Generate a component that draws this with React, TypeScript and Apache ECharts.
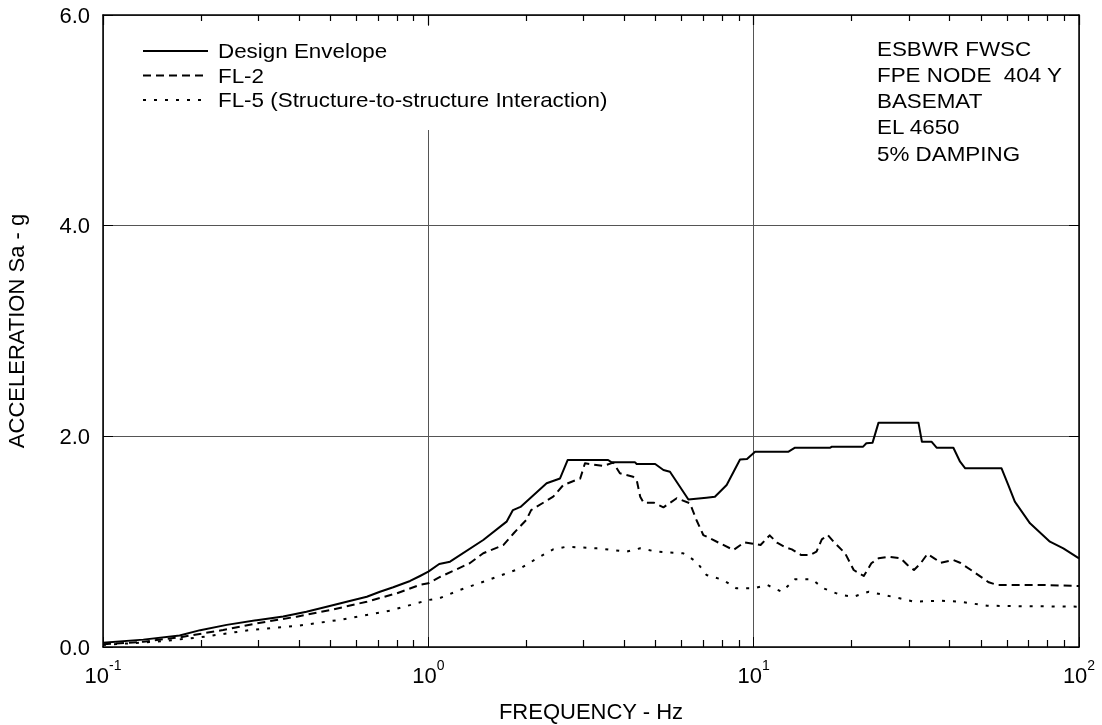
import React, { useEffect, useRef } from "react";
import * as echarts from "echarts";

const FONT = "'Liberation Sans', Arial, Helvetica, sans-serif";

// Design Envelope
const designFreq = [0.1, 0.133, 0.172, 0.199, 0.24, 0.297, 0.358, 0.422, 0.487, 0.561, 0.647, 0.71, 0.78, 0.879, 0.943, 1.0, 1.08, 1.166, 1.475, 1.74, 1.82, 1.92, 2.31, 2.54, 2.68, 3.57, 3.66, 4.32, 4.37, 4.98, 5.28, 5.53, 6.22, 6.3, 7.16, 7.6, 8.26, 9.08, 9.54, 10.1, 12.8, 13.4, 17.2, 17.4, 21.7, 22.2, 23.2, 24.2, 32.1, 32.9, 35.2, 36.5, 41.1, 43.1, 44.7, 57.8, 60.6, 63.5, 70.7, 81.4, 89.5, 100];
const designAcc = [0.04, 0.07, 0.11, 0.16, 0.21, 0.255, 0.29, 0.335, 0.383, 0.43, 0.477, 0.525, 0.567, 0.627, 0.674, 0.715, 0.788, 0.81, 1.016, 1.19, 1.3, 1.33, 1.554, 1.6, 1.775, 1.775, 1.753, 1.753, 1.737, 1.737, 1.68, 1.664, 1.427, 1.4, 1.418, 1.427, 1.538, 1.78, 1.785, 1.854, 1.854, 1.892, 1.892, 1.902, 1.902, 1.934, 1.94, 2.13, 2.13, 1.949, 1.949, 1.892, 1.892, 1.759, 1.696, 1.696, 1.538, 1.38, 1.174, 1.0, 0.937, 0.842];

// FL-2
const fl2Freq = [0.1, 0.133, 0.172, 0.234, 0.297, 0.394, 0.5, 0.647, 0.8, 0.94, 1.0, 1.09, 1.34, 1.475, 1.7, 1.83, 2.0, 2.07, 2.42, 2.6, 2.93, 3.03, 3.45, 3.7, 3.88, 4.26, 4.37, 4.48, 4.59, 4.93, 5.28, 5.8, 6.37, 6.67, 7.0, 7.88, 8.67, 9.37, 10.0, 10.5, 11.2, 11.8, 12.5, 13.1, 14.0, 14.9, 15.6, 16.2, 16.9, 17.6, 19.1, 20.3, 21.8, 23.0, 24.2, 26.0, 28.3, 29.7, 31.1, 32.6, 34.2, 35.9, 37.6, 41.1, 43.1, 47.4, 52.8, 56.1, 75.8, 100];
const fl2Acc = [0.025, 0.05, 0.092, 0.161, 0.225, 0.288, 0.351, 0.43, 0.51, 0.589, 0.605, 0.667, 0.795, 0.89, 0.968, 1.08, 1.206, 1.3, 1.427, 1.538, 1.6, 1.744, 1.718, 1.75, 1.649, 1.617, 1.585, 1.427, 1.37, 1.37, 1.326, 1.412, 1.364, 1.206, 1.063, 0.984, 0.921, 0.994, 0.98, 0.968, 1.06, 0.99, 0.946, 0.927, 0.873, 0.873, 0.905, 1.022, 1.063, 1.0, 0.89, 0.731, 0.674, 0.795, 0.842, 0.857, 0.842, 0.778, 0.731, 0.795, 0.883, 0.842, 0.8, 0.826, 0.8, 0.715, 0.614, 0.589, 0.589, 0.579];

// FL-5
const fl5Freq = [0.1, 0.146, 0.199, 0.283, 0.394, 0.548, 0.762, 1.0, 1.08, 1.25, 1.55, 1.92, 2.16, 2.42, 2.66, 3.29, 4.07, 4.48, 5.03, 6.07, 6.67, 7.16, 8.06, 8.85, 10.0, 11.0, 12.2, 13.4, 15.1, 16.4, 18.5, 20.3, 22.6, 25.2, 28.1, 31.1, 37.6, 43.1, 52.2, 59.6, 100];
const fl5Acc = [0.02, 0.05, 0.092, 0.161, 0.2, 0.263, 0.345, 0.446, 0.462, 0.541, 0.643, 0.747, 0.842, 0.927, 0.952, 0.937, 0.905, 0.937, 0.905, 0.89, 0.81, 0.684, 0.636, 0.557, 0.557, 0.589, 0.525, 0.643, 0.643, 0.557, 0.494, 0.478, 0.525, 0.494, 0.462, 0.43, 0.44, 0.43, 0.392, 0.389, 0.383];

const minorTicks = [0.2, 0.3, 0.4, 0.5, 0.6, 0.7, 0.8, 0.9, 2, 3, 4, 5, 6, 7, 8, 9, 20, 30, 40, 50, 60, 70, 80, 90];
const majorTicks = [0.1, 1, 10, 100];
const seriesNames = ["Design Envelope", "FL-2", "FL-5 (Structure-to-structure Interaction)"];
const noteLines = ["ESBWR FWSC", "FPE NODE  404 Y", "BASEMAT", "EL 4650", "5% DAMPING"];
const yMin = 0;
const yMax = 6;

const dashTypes: any[] = ["solid", [8, 5], [3, 8]];

const zip = (a: number[], b: number[]) => a.map((v, i) => [v, b[i]]);

export default function App() {
  const ref = useRef<HTMLDivElement>(null);
  useEffect(() => {
    if (!ref.current) return;
    const chart = echarts.init(ref.current, null, { renderer: "svg" });
    const legendY = [51, 75.5, 100];
    const graphics: any[] = [
      { type: "rect", z: 50, shape: { x: 107, y: 26, width: 400, height: 104 }, style: { fill: "#fff" }, silent: true },
    ];
    seriesNames.forEach((n, i) => {
      graphics.push({
        type: "line", z: 60,
        shape: { x1: 143, y1: legendY[i], x2: 208, y2: legendY[i] },
        style: { stroke: "#000", lineWidth: 2, lineDash: i === 0 ? null : dashTypes[i] },
      });
      graphics.push({
        type: "text", z: 60, x: 218, y: legendY[i], scaleX: 1.12,
        style: { text: n, fill: "#000", font: `20px ${FONT}`, verticalAlign: "middle" },
      });
    });
    noteLines.forEach((t, i) => {
      graphics.push({
        type: "text", z: 60, x: 877, y: 48.5 + i * 26.3, scaleX: 1.12,
        style: { text: t, fill: "#000", font: `20px ${FONT}`, verticalAlign: "middle" },
      });
    });

    const logLabel = {
      margin: 11,
      formatter: (v: number) => `{b|10}{s|${Math.round(Math.log10(v))}}`,
      rich: {
        b: { fontSize: 22, fontFamily: FONT, color: "#000", lineHeight: 28, verticalAlign: "bottom" },
        s: { fontSize: 14, fontFamily: FONT, color: "#000", lineHeight: 14, verticalAlign: "top" },
      },
    };

    const tickAxis = (position: string, values: number[], length: number) => ({
      type: "log", logBase: 10, min: 0.1, max: 100, position, z: 20,
      axisLine: { show: false, onZero: false },
      axisTick: { show: true, inside: true, length, customValues: values, lineStyle: { color: "#000", width: 1.2 } },
      axisLabel: { show: false },
      splitLine: { show: false },
    });

    const option: any = {
      animation: false,
      textStyle: { fontFamily: FONT },
      grid: { left: 103, right: 23, top: 15, bottom: 78, containLabel: false, outerBoundsMode: "none" },
      xAxis: [
        {
          type: "log", logBase: 10, min: 0.1, max: 100, position: "bottom",
          axisLine: { show: true, onZero: false, lineStyle: { color: "#000", width: 1.5 } },
          axisTick: { show: true, inside: true, length: 10, lineStyle: { color: "#000" } },
          axisLabel: logLabel,
          splitLine: { show: true, lineStyle: { color: "#555", width: 1 } },
          name: "FREQUENCY - Hz", nameLocation: "middle", nameGap: 53,
          nameTextStyle: { fontSize: 22, color: "#000", fontFamily: FONT },
        },
        {
          type: "log", logBase: 10, min: 0.1, max: 100, position: "top",
          axisLine: { show: true, onZero: false, lineStyle: { color: "#000", width: 1.5 } },
          axisTick: { show: false },
          axisLabel: { show: false },
          splitLine: { show: false },
        },
        tickAxis("bottom", minorTicks, 7),
        tickAxis("top", minorTicks, 6),
        tickAxis("top", majorTicks, 10),
      ],
      yAxis: [
        {
          type: "value", min: yMin, max: yMax, interval: 2, position: "left",
          axisLine: { show: true, onZero: false, lineStyle: { color: "#000", width: 1.5 } },
          axisTick: { show: true, inside: true, length: 10, lineStyle: { color: "#000" } },
          axisLabel: { margin: 13, fontSize: 22, color: "#000", fontFamily: FONT, formatter: (v: number) => v.toFixed(1) },
          splitLine: { show: true, lineStyle: { color: "#555", width: 1 } },
          name: "ACCELERATION Sa - g", nameLocation: "middle", nameGap: 76,
          nameTextStyle: { fontSize: 22, color: "#000", fontFamily: FONT },
        },
        {
          type: "value", min: yMin, max: yMax, interval: 2, position: "right",
          axisLine: { show: true, onZero: false, lineStyle: { color: "#000", width: 1.5 } },
          axisTick: { show: true, inside: true, length: 10, lineStyle: { color: "#000" } },
          axisLabel: { show: false },
          splitLine: { show: false },
        },
      ],
      graphic: { elements: graphics },
      series: [zip(designFreq, designAcc), zip(fl2Freq, fl2Acc), zip(fl5Freq, fl5Acc)].map((d, i) => ({
        name: seriesNames[i], type: "line", xAxisIndex: 0, yAxisIndex: 0,
        data: d, showSymbol: false, symbol: "none", z: 5,
        lineStyle: { color: "#000", width: 2, type: dashTypes[i], cap: "butt", join: "round" },
      })),
    };
    chart.setOption(option);
    return () => chart.dispose();
  }, []);
  return <div ref={ref} style={{ position: "fixed", left: 0, top: 0, width: 1102, height: 725 }} />;
}
